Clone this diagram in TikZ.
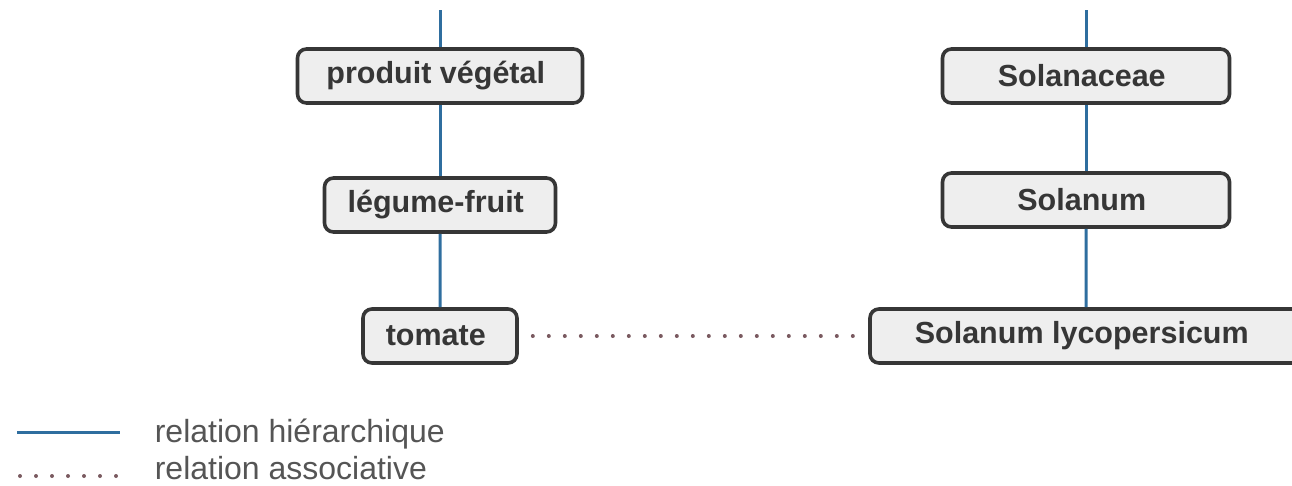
\documentclass[tikz,border=0pt]{standalone}
\usepackage{fontspec}
\setmainfont{Liberation Sans}
\usepackage{xcolor}

\definecolor{boxfill}{HTML}{EEEEEE}
\definecolor{boxline}{HTML}{363636}
\definecolor{hierblue}{HTML}{2F6E9F}
\definecolor{assocdot}{HTML}{7A5A60}
\definecolor{legendtext}{HTML}{555555}

\begin{document}
\begin{tikzpicture}[x=1pt, y=1pt,
  every node/.style = {shape=rectangle, draw=boxline, line width=3.6pt, rounded corners=9pt, fill=boxfill, align=center, text=boxline, minimum height=54pt, font=\fontsize{30.5}{36}\selectfont\bfseries},
  edge from parent/.style = {draw=hierblue, line width=3pt},
  hier/.style = {draw=hierblue, line width=3pt},
  assoc/.style = {draw=assocdot, line width=4pt, line cap=round, dash pattern=on 0pt off 16pt},
  legend/.style = {draw=none, fill=none, text=legendtext, font=\fontsize{32}{38}\selectfont, anchor=base west, inner sep=0pt, minimum height=0pt}]
\useasboundingbox (0,0) rectangle (1292,-485);

% usage side
\node[minimum width=285pt] (produit) at (440,-76) { produit végétal }
child[level distance=129pt] { node[minimum width=231pt] (legume) { légume-fruit }
 child[level distance=131pt] { node[minimum width=154pt] (tomate) { tomate } }
};

% botanical side
\node[minimum width=287pt] (solanaceae) at (1086,-76) { Solanaceae }
child[level distance=124pt] { node[minimum width=287pt] (solanum) { Solanum }
 child[level distance=136pt] { node[minimum width=432pt] (lyco) { Solanum lycopersicum } }
};

\coordinate (topL) at (440,-10);
\coordinate (topR) at (1086,-10);
\draw[hier] (topL) -- (produit);
\draw[hier] (topR) -- (solanaceae);

\draw[assoc, shorten <=14pt, shorten >=10pt] (tomate.east) -- (lyco.west);

% legend
\coordinate (hierA) at (17,-432);
\coordinate (hierB) at (120,-432);
\coordinate (assocA) at (20,-476);
\coordinate (assocB) at (120,-476);
\draw[hier] (hierA) -- (hierB);
\draw[assoc] (assocA) -- (assocB);
\node[legend] (hiertext) at (153,-442) {relation hiérarchique};
\node[legend] (assoctext) at (153,-479) {relation associative};
\end{tikzpicture}
\end{document}
